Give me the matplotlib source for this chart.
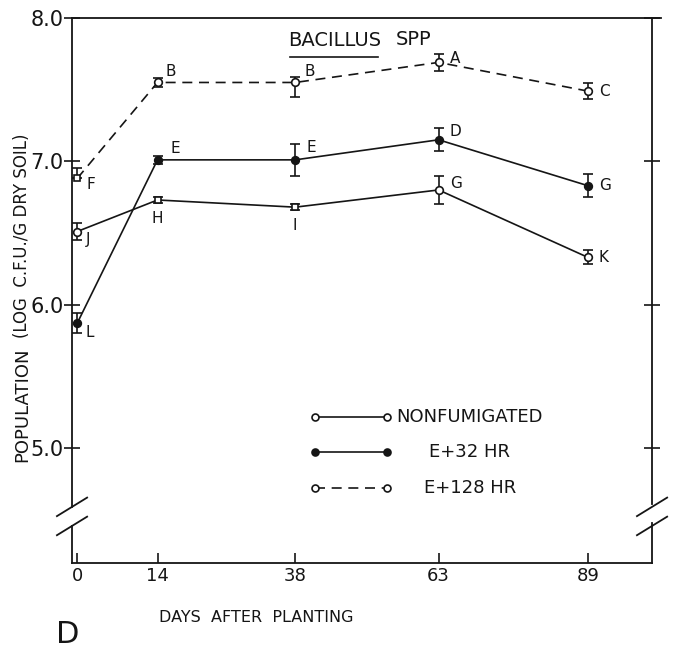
import matplotlib
matplotlib.use("Agg")
import matplotlib.pyplot as plt
from matplotlib.lines import Line2D

plt.rcParams["font.family"] = ["DejaVu Sans"]

# ---------------------------------------------------------------------------
# Data
# ---------------------------------------------------------------------------
days = [0, 14, 38, 63, 89]
day_labels = ["0", "14", "38", "63", "89"]

nonfum = [6.51, 6.73, 6.68, 6.80, 6.33]
nonfum_lo = [0.06, 0.02, 0.02, 0.10, 0.05]
nonfum_hi = [0.06, 0.02, 0.02, 0.10, 0.05]
nonfum_letters = ["J", "H", "I", "G", "K"]

e32 = [5.87, 7.01, 7.01, 7.15, 6.83]
e32_lo = [0.07, 0.03, 0.11, 0.08, 0.08]
e32_hi = [0.07, 0.03, 0.11, 0.08, 0.08]
e32_letters = ["L", "E", "E", "D", "G"]

e128 = [6.88, 7.55, 7.55, 7.69, 7.49]
e128_lo = [0.00, 0.03, 0.10, 0.06, 0.055]
e128_hi = [0.07, 0.03, 0.04, 0.06, 0.055]
e128_letters = ["F", "B", "B", "A", "C"]

y_ticks = [5.0, 6.0, 7.0, 8.0]
y_ticklabels = ["5.0", "6.0", "7.0", "8.0"]

# styles
INK = "#151515"
nonfum_markers = ["o", "s", "s", "o", "o"]
e32_markers = ["o", "o", "o", "o", "o"]
e128_markers = ["s", "o", "o", "o", "o"]
nonfum_offsets = [(6, -6), (0, -13), (0, -13), (8, 5), (8, 0)]
e32_offsets = [(6, -7), (9, 8), (8, 9), (8, 6), (8, 0)]
e128_offsets = [(7, -4), (6, 8), (7, 8), (8, 3), (8, 0)]

fig = plt.figure(figsize=(6.75, 6.49), dpi=100, facecolor="white")
ax = fig.add_axes([0.1067, 0.1325, 0.8593, 0.8398])
ax.set_xlim(-0.9, 100.2)
ax.set_ylim(4.197, 8.0)

for sp in ax.spines.values():
    sp.set_visible(False)


def draw_series(vals, lo, hi, markers, filled, ls, letters, offsets):
    ax.errorbar(days, vals, yerr=[lo, hi], fmt="none", ecolor=INK,
                elinewidth=1.2, capsize=3.5, capthick=1.2, zorder=3)
    ax.plot(days, vals, color=INK, lw=1.2, ls=ls, zorder=2,
            dashes=(6, 4) if ls == "--" else (None, None))
    for x, y, m in zip(days, vals, markers):
        ax.plot([x], [y], marker=m, ms=5.5 if m == "o" else 5,
                mfc=INK if filled else "white", mec=INK, mew=1.2,
                ls="none", zorder=4)
    for x, y, t, off in zip(days, vals, letters, offsets):
        ax.annotate(t, (x, y), xytext=off, textcoords="offset points",
                    fontsize=11, color=INK, ha="left" if off[0] else "center",
                    va="center")


draw_series(nonfum, nonfum_lo, nonfum_hi, nonfum_markers, False, "-",
            nonfum_letters, nonfum_offsets)
draw_series(e32, e32_lo, e32_hi, e32_markers, True, "-",
            e32_letters, e32_offsets)
draw_series(e128, e128_lo, e128_hi, e128_markers, False, "--",
            e128_letters, e128_offsets)

# ticks
ax.set_xticks(days)
ax.set_xticklabels(day_labels, fontsize=13)
ax.tick_params(axis="x", direction="in", length=7, width=1.2, color=INK,
               pad=3, labelcolor=INK)
ax.set_yticks(y_ticks)
ax.set_yticklabels(y_ticklabels, fontsize=15)
ax.tick_params(axis="y", direction="inout", length=12, width=1.2, color=INK,
               pad=0, labelcolor=INK, right=True, labelright=False)

# frame with axis breaks
tr = ax.transAxes
brk_lo, brk_hi = 0.068, 0.103
frame = [
    ([0, 0], [brk_hi, 1]), ([0, 0], [0, brk_lo]),
    ([1, 1], [brk_hi + 0.006, 1]), ([1, 1], [0, brk_lo + 0.006]),
    ([0, 1.015], [1, 1]), ([0, 1], [0, 0]),
]
for xs, ys in frame:
    ax.add_line(Line2D(xs, ys, transform=tr, color=INK, lw=1.3, clip_on=False))
for xc in (0, 1):
    for yc in (brk_lo, brk_hi):
        ax.add_line(Line2D([xc - 0.026, xc + 0.026], [yc - 0.017, yc + 0.017],
                           transform=tr, color=INK, lw=1.3, clip_on=False))

# title
ax.text(0.452, 0.958, "BACILLUS", transform=tr, fontsize=14, ha="center",
        va="center", color=INK)
ax.add_line(Line2D([0.375, 0.527], [0.928, 0.928], transform=tr, color=INK,
                   lw=1.2))
ax.text(0.588, 0.960, "SPP", transform=tr, fontsize=14, ha="center",
        va="center", color=INK)

# legend
leg_rows = [(0.268, False, "-", "NONFUMIGATED"),
            (0.204, True, "-", "E+32 HR"),
            (0.138, False, "--", "E+128 HR")]
for yy, filled, ls, txt in leg_rows:
    ax.add_line(Line2D([0.419, 0.543], [yy, yy], transform=tr, color=INK,
                       lw=1.2, ls=ls, dashes=(6, 4) if ls == "--" else (None, None)))
    for xx in (0.419, 0.543):
        ax.add_line(Line2D([xx], [yy], transform=tr, marker="o", ms=5,
                           mfc=INK if filled else "white", mec=INK, mew=1.2,
                           ls="none"))
    ax.text(0.686, yy, txt, transform=tr, fontsize=13, ha="center",
            va="center", color=INK)

# axis labels
fig.text(0.38, 0.049, "DAYS  AFTER  PLANTING", fontsize=11.5, ha="center",
         va="center", color=INK)
fig.text(0.101, 0.022, "D", fontsize=22, ha="center", va="center", color=INK)
fig.text(0.033, 0.377, "POPULATION", fontsize=13, rotation=90, ha="center",
         va="center", color=INK)
fig.text(0.033, 0.636, "(LOG  C.F.U./G DRY SOIL)", fontsize=12, rotation=90,
         ha="center", va="center", color=INK)

fig.savefig("out.png", dpi=100, facecolor="white")
